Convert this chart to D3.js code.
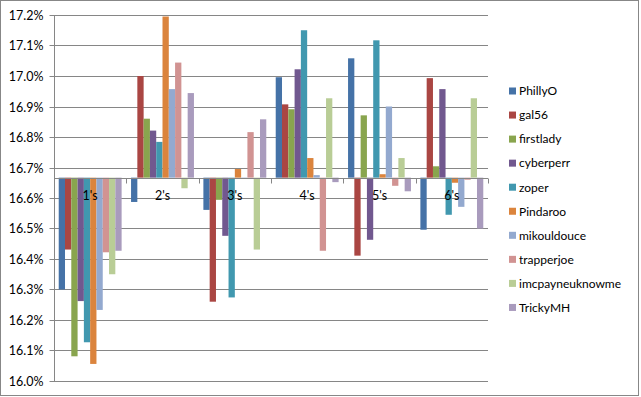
<!DOCTYPE html>
<html>
<head>
<meta charset="utf-8">
<script src="https://cdnjs.cloudflare.com/ajax/libs/d3/7.8.5/d3.min.js"></script>
<style>
  body { margin: 0; background: #fff; }
  svg text { font-family: Lato, "Open Sans", sans-serif; fill: #000; }
</style>
</head>
<body>
<figure id="bars" style="margin:0"></figure>
<script>
// data (percent)
const categories = ["1's", "2's", "3's", "4's", "5's", "6's"];
const series = ["PhillyO", "gal56", "firstlady", "cyberperr", "zoper",
  "Pindaroo", "mikouldouce", "trapperjoe", "imcpayneuknowme", "TrickyMH"];
const colors = ["#4572a7", "#aa4643", "#89a54e", "#71588f", "#4198af",
  "#db843d", "#93a9cf", "#d19392", "#b9cd96", "#a99bbd"];

const PhillyO = [16.300, 16.587, 16.561, 16.996, 17.058, 16.496];
const gal56 = [16.431, 17.000, 16.260, 16.907, 16.411, 16.993];
const firstlady = [16.081, 16.860, 16.594, 16.891, 16.871, 16.704];
const cyberperr = [16.262, 16.821, 16.476, 17.022, 16.463, 16.957];
const zoper = [16.127, 16.784, 16.274, 17.150, 17.117, 16.545];
const Pindaroo = [16.056, 17.195, 16.695, 16.731, 16.678, 16.650];
const mikouldouce = [16.233, 16.957, 16.663, 16.675, 16.900, 16.571];
const trapperjoe = [16.422, 17.044, 16.816, 16.427, 16.640, 16.660];
const imcpayneuknowme = [16.350, 16.632, 16.431, 16.927, 16.731, 16.927];
const TrickyMH = [16.427, 16.944, 16.858, 16.652, 16.622, 16.500];
const values = [PhillyO, gal56, firstlady, cyberperr, zoper,
  Pindaroo, mikouldouce, trapperjoe, imcpayneuknowme, TrickyMH];

const yTicks = [16.0, 16.1, 16.2, 16.3, 16.4, 16.5, 16.6, 16.7, 16.8, 16.9, 17.0, 17.1, 17.2];
const baseValue = 100 / 6; // horizontal axis crosses at 1/6

const width = 641, height = 397;
const plot = { left: 54, right: 488, top: 15, bottom: 381 };

const svg = d3.select("figure#bars")
  .append("svg")
  .attr("width", width)
  .attr("height", height);

// outer border
svg.append("rect")
  .attr("x", 0.5).attr("y", 0.5)
  .attr("width", 638).attr("height", 395)
  .attr("fill", "#fff")
  .attr("stroke", "#878787");

const x0 = d3.scaleBand()
  .domain(categories)
  .range([plot.left, plot.right]);

// gap width 150% -> 0.75 bar on each side
const x1 = d3.scaleBand()
  .domain(series)
  .range([0, x0.bandwidth()])
  .paddingOuter(0.75);

const y = d3.scaleLinear()
  .domain([16.0, 17.2])
  .range([plot.bottom, plot.top]);

const crisp = v => Math.round(v) + 0.5;

// gridlines + left axis
const yAxis = svg.append("g")
  .attr("transform", "translate(" + crisp(plot.left) + ",0)")
  .call(d3.axisLeft(y)
    .tickValues(yTicks)
    .tickSize(5)
    .tickPadding(6)
    .tickFormat(d => d3.format(".1f")(d) + "%"));
yAxis.select(".domain").remove();
yAxis.selectAll(".tick").attr("transform", d => "translate(0," + crisp(y(d)) + ")");
yAxis.selectAll(".tick line").attr("stroke", "#868686");
yAxis.selectAll(".tick text").attr("font-size", 12.5).attr("fill", "#000");

svg.append("g")
  .selectAll("line")
  .data(yTicks)
  .enter()
  .append("line")
  .attr("x1", plot.left)
  .attr("x2", plot.right)
  .attr("y1", d => crisp(y(d)))
  .attr("y2", d => crisp(y(d)))
  .attr("stroke", "#868686");

svg.append("line")
  .attr("x1", crisp(plot.left)).attr("x2", crisp(plot.left))
  .attr("y1", crisp(y(17.2))).attr("y2", crisp(y(16.0)))
  .attr("stroke", "#868686");

// bars
const groups = svg.append("g")
  .selectAll("g")
  .data(categories)
  .enter()
  .append("g")
  .attr("transform", c => "translate(" + x0(c) + ",0)");

groups.selectAll("rect")
  .data((c, ci) => series.map((s, si) => ({ s: s, si: si, v: values[si][ci] })))
  .enter()
  .append("rect")
  .attr("x", d => x1(d.s))
  .attr("width", x1.bandwidth())
  .attr("y", d => y(Math.max(d.v, baseValue)))
  .attr("height", d => Math.max(0.8, Math.abs(y(d.v) - y(baseValue))))
  .attr("fill", d => colors[d.si]);

// category axis at 1/6
const yb = crisp(y(baseValue));
svg.append("line")
  .attr("x1", plot.left).attr("x2", plot.right)
  .attr("y1", yb).attr("y2", yb)
  .attr("stroke", "#868686");

const bounds = categories.map(c => x0(c)).concat([plot.right]);
svg.append("g")
  .selectAll("line")
  .data(bounds)
  .enter()
  .append("line")
  .attr("x1", d => crisp(d)).attr("x2", d => crisp(d))
  .attr("y1", yb).attr("y2", yb + 5)
  .attr("stroke", "#868686");

svg.append("g")
  .selectAll("text")
  .data(categories)
  .enter()
  .append("text")
  .attr("x", c => x0(c) + x0.bandwidth() / 2)
  .attr("y", yb + 21.5)
  .attr("text-anchor", "middle")
  .attr("font-size", 12.5)
  .text(c => c);

// legend
const legend = svg.append("g")
  .selectAll("g")
  .data(series)
  .enter()
  .append("g")
  .attr("transform", (s, i) => "translate(509," + (91 + i * 24.05) + ")");

legend.append("rect")
  .attr("x", 0).attr("y", -3.5)
  .attr("width", 7).attr("height", 7)
  .attr("fill", (s, i) => colors[i]);

legend.append("text")
  .attr("x", 10)
  .attr("dy", "0.36em")
  .attr("font-size", 12)
  .text(s => s);
</script>
</body>
</html>
